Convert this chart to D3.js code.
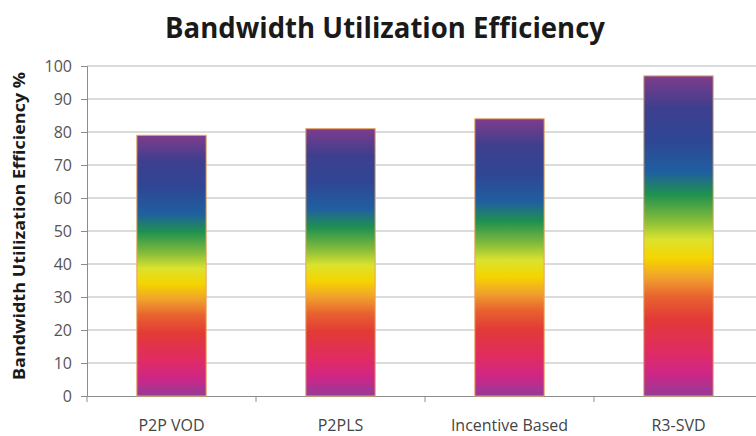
<!DOCTYPE html>
<html>
<head>
<meta charset="utf-8">
<script src="https://cdn.jsdelivr.net/npm/d3@7"></script>
<style>
  html, body { margin: 0; padding: 0; background: #fff; }
  svg { display: block; }
</style>
</head>
<body>
<svg id="chart" width="756" height="436"></svg>
<script>
// Chart data
const categories = ["P2P VOD", "P2PLS", "Incentive Based", "R3-SVD"];
const efficiency = [79, 81, 84, 97];
const yTicks = [0, 10, 20, 30, 40, 50, 60, 70, 80, 90, 100];

// Rainbow fill, from the bar's base (0) to its top (1)
const rainbowStops = [
  [0.00, "#943b98"],
  [0.07, "#cf2686"],
  [0.14, "#e02c62"],
  [0.24, "#e23a36"],
  [0.31, "#e8632f"],
  [0.37, "#f0a12c"],
  [0.43, "#f5d400"],
  [0.49, "#dbe22e"],
  [0.55, "#82bb3a"],
  [0.63, "#1f9150"],
  [0.70, "#1f5fa0"],
  [0.80, "#2f4694"],
  [0.90, "#3d3f8e"],
  [1.00, "#7e3c8c"]
];

const svg = d3.select("#chart");
const margin = { left: 87, right: -7, top: 66, bottom: 40 };
const W = 756, H = 436;
const font = "'Open Sans', sans-serif";

const x = d3.scaleBand()
  .domain(categories)
  .range([margin.left, W - margin.right])
  .paddingInner(0.59)
  .paddingOuter(0.295);

const xb = d3.scaleBand()
  .domain(categories)
  .range([margin.left, W - margin.right]);

const y = d3.scaleLinear()
  .domain([0, 100])
  .range([H - margin.bottom, margin.top]);

// Gradient definition
const defs = svg.append("defs");
const grad = defs.append("linearGradient")
  .attr("id", "rainbow")
  .attr("x1", 0).attr("y1", 1).attr("x2", 0).attr("y2", 0);
grad.selectAll("stop").data(rainbowStops).join("stop")
  .attr("offset", d => d[0])
  .attr("stop-color", d => d[1]);

// Gridlines
svg.append("g")
  .selectAll("line")
  .data(yTicks.filter(t => t > 0))
  .join("line")
  .attr("x1", margin.left).attr("x2", W)
  .attr("y1", d => y(d)).attr("y2", d => y(d))
  .attr("stroke", "#cfcfcf")
  .attr("stroke-width", 1.3);

// Y axis
const yAxis = svg.append("g")
  .attr("transform", `translate(${margin.left},0)`)
  .call(d3.axisLeft(y).tickValues(yTicks).tickSize(6).tickPadding(9));
yAxis.select(".domain").attr("stroke", "#8c8c8c");
yAxis.selectAll(".tick line").attr("stroke", "#8c8c8c");
yAxis.selectAll("text")
  .attr("fill", "#555")
  .style("font-family", font)
  .style("font-size", "16px");

// X axis
const xAxis = svg.append("g")
  .attr("transform", `translate(0,${y(0)})`)
  .call(d3.axisBottom(xb).tickSize(0).tickPadding(24));
xAxis.select(".domain").attr("stroke", "#8c8c8c");
xAxis.selectAll("text")
  .attr("fill", "#444")
  .style("font-family", font)
  .style("font-size", "16px");
// Category separator ticks
xAxis.append("g")
  .selectAll("line")
  .data(categories)
  .join("line")
  .attr("x1", d => xb(d)).attr("x2", d => xb(d))
  .attr("y1", 0).attr("y2", 6)
  .attr("stroke", "#8c8c8c");

// Bars
svg.append("g")
  .selectAll("rect")
  .data(categories)
  .join("rect")
  .attr("x", d => x(d))
  .attr("width", x.bandwidth())
  .attr("y", (d, i) => y(efficiency[i]))
  .attr("height", (d, i) => y(0) - y(efficiency[i]))
  .attr("fill", "url(#rainbow)")
  .attr("stroke", "#e6a35e")
  .attr("stroke-width", 1);

// Title
svg.append("text")
  .attr("x", 385)
  .attr("y", 38)
  .attr("text-anchor", "middle")
  .attr("fill", "#1a1a1a")
  .attr("textLength", 440)
  .attr("lengthAdjust", "spacingAndGlyphs")
  .style("font-family", font)
  .style("font-weight", "700")
  .style("font-size", "28px")
  .text("Bandwidth Utilization Efficiency");

// Y axis title
svg.append("text")
  .attr("transform", `translate(25,226) rotate(-90)`)
  .attr("text-anchor", "middle")
  .attr("fill", "#1a1a1a")
  .attr("textLength", 308)
  .attr("lengthAdjust", "spacingAndGlyphs")
  .style("font-family", font)
  .style("font-weight", "700")
  .style("font-size", "15.5px")
  .text("Bandwidth Utilization Efficiency %");
</script>
</body>
</html>
